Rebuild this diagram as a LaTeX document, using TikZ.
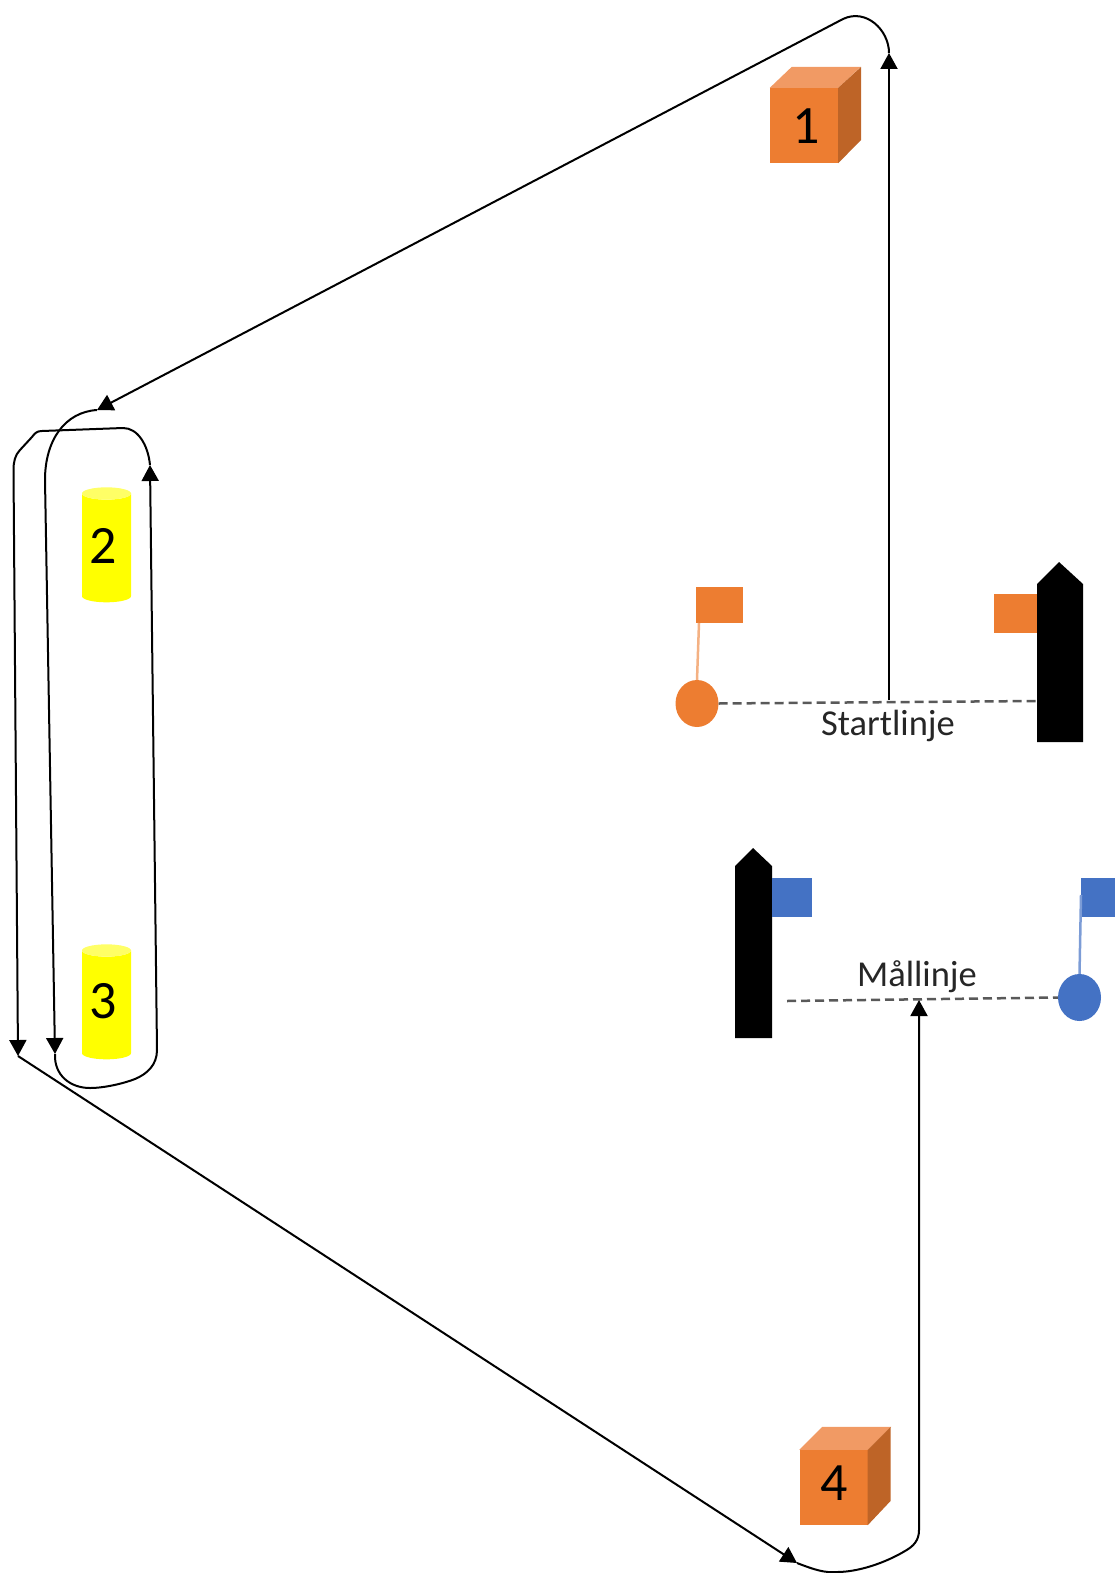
\documentclass[tikz,border=0pt]{standalone}
\usepackage{fontspec}
\setmainfont{Carlito}
\usepackage{xcolor}
\usetikzlibrary{shapes.geometric}
\usetikzlibrary{arrows.meta}
\definecolor{markorange}{HTML}{ED7D31}
\definecolor{marktop}{HTML}{F19A64}
\definecolor{markside}{HTML}{BE6427}
\definecolor{markblue}{HTML}{4472C4}
\definecolor{markyellow}{HTML}{FFFF00}
\definecolor{markcap}{HTML}{FFFF66}
\tikzset{
  route/.style={line width=2pt, black, line join=round},
  routearrow/.style={route, -{Triangle[length=16pt,width=17pt]}},
  linedash/.style={line width=2.5pt, black!65, dash pattern=on 9pt off 5pt},
  crate/.style={rectangle, fill=markorange, inner sep=0pt, minimum width=68pt, minimum height=75pt},
  barrel/.style={cylinder, shape border rotate=90, aspect=0.45, cylinder uses custom fill, cylinder body fill=markyellow, cylinder end fill=markcap, inner sep=0pt, minimum width=49pt, minimum height=115pt, font=\fontsize{54}{60}\selectfont},
  numeral/.style={inner sep=0pt, font=\fontsize{54}{60}\selectfont},
  buoy/.style={ellipse, inner sep=0pt, minimum width=43pt, minimum height=47pt},
  flagbox/.style={rectangle, inner sep=0pt},
  linetext/.style={inner sep=0pt, text=black!85, font=\fontsize{36.5}{42}\selectfont},
}
\begin{document}
\begin{tikzpicture}[x=1pt,y=-1pt]
\useasboundingbox (0,0) rectangle (1115,1573);
%%% The four marks of the course
\node (cube1) [crate] at (804,125.5) {};
\fill[marktop] (cube1.north west) -- ++(22,-21) -- ++(69,0) -- (cube1.north east) -- cycle;
\fill[markside] (cube1.north east) -- ++(23,-21) -- ++(0,73) -- (cube1.south east) -- cycle;
\node (num1) [numeral] at (806,126.5) {1};
\node (barrel2) [barrel] at (106.5,548) {\phantom{2}};
\node (num2) [numeral] at (103,546) {2};
\node (barrel3) [barrel] at (106.5,1005) {\phantom{3}};
\node (num3) [numeral] at (103,1001) {3};
\node (cube4) [crate] at (833.5,1487.5) {};
\fill[marktop] (cube4.north west) -- ++(23,-23) -- ++(69,0) -- (cube4.north east) -- cycle;
\fill[markside] (cube4.north east) -- ++(23,-23) -- ++(0,74) -- (cube4.south east) -- cycle;
\node (num4) [numeral] at (834,1483) {4};
%%%%%% The start line
\node (startflag) [flagbox, fill=markorange, minimum width=47pt, minimum height=36pt] at (719.5,605) {};
\node (startbuoy) [buoy, fill=markorange] at (697,703.5) {};
\draw[line width=2.5pt, markorange!60] (startbuoy.north) -- (699,623);
\fill[black] (1037,742) -- (1037,584) -- (1059,562) -- (1083,584) -- (1083,742) -- cycle;
\node (startboatflag) [flagbox, fill=markorange, minimum width=43pt, minimum height=39pt] at (1015.5,613.5) {};
\coordinate (startboat) at (1037,701);
\draw[linedash] (startbuoy.east) -- (startboat);
\node (startlabel) [linetext] at (888,726) {Startlinje};
%%%%%% The finish line
\fill[black] (735,1038) -- (735,866) -- (753,848) -- (772,866) -- (772,1038) -- cycle;
\node (finishboatflag) [flagbox, fill=markblue, minimum width=40pt, minimum height=39pt] at (792,897.5) {};
\node (finishflag) [flagbox, fill=markblue, minimum width=34pt, minimum height=39pt] at (1098,897.5) {};
\node (finishbuoy) [buoy, fill=markblue] at (1079.5,997.5) {};
\draw[line width=2.5pt, markblue!70] (finishbuoy.north) -- (1081,895);
\coordinate (finishboat) at (787,1001);
\draw[linedash] (finishboat) -- (finishbuoy.west);
\node (finishlabel) [linetext] at (917,977) {Mållinje};
%%%%%% The points where the route changes direction
\coordinate (startcross) at (889,700);
\coordinate (turn1) at (889,53);
\coordinate (peak1) at (843,19);
\coordinate (turn2) at (97,410);
\coordinate (down2) at (45,480);
\coordinate (turn3) at (55,1054);
\coordinate (up3) at (157,1050);
\coordinate (turn4) at (150,465);
\coordinate (over4) at (123,428);
\coordinate (back4) at (42,431);
\coordinate (down4) at (13.5,470);
\coordinate (turn5) at (18,1056);
\coordinate (turn6) at (797,1563);
\coordinate (up6) at (919,1530);
\coordinate (finishcross) at (919,1000);
%%%% The route from the start line to the finish line
\draw[routearrow] (startcross) -- (turn1);
\draw[routearrow] (turn1) .. controls (889,30) and (866,8) .. (peak1) -- (turn2);
\draw[routearrow] (turn2) .. controls (65,412) and (45,440) .. (down2) -- (turn3);
\draw[routearrow] (turn3) .. controls (54,1075) and (70,1088) .. (90,1088) .. controls (105,1088) and (125,1083) .. (135,1079) .. controls (147,1074) and (157,1065) .. (up3) -- (turn4);
\draw[routearrow] (turn4) .. controls (148,445) and (138,428) .. (over4) -- (back4) .. controls (37,431) and (35,433) .. (32,437) -- (20,450) .. controls (15,455) and (13.5,462) .. (down4) -- (turn5);
\draw[routearrow] (turn5) -- (turn6);
\draw[routearrow] (turn6) .. controls (815,1570) and (825,1573) .. (837,1572) .. controls (858,1572) and (885,1563) .. (905,1551) .. controls (914,1546) and (919,1540) .. (up6) -- (finishcross);
\end{tikzpicture}
\end{document}
